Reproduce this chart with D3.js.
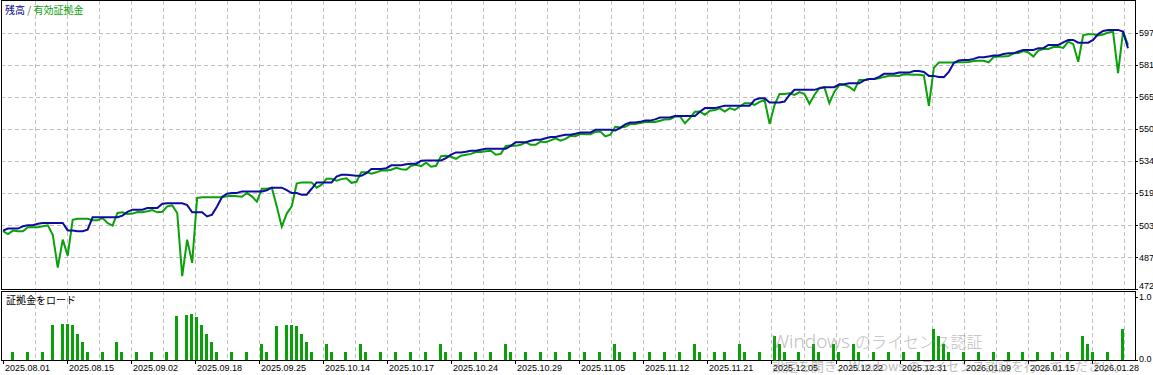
<!DOCTYPE html>
<html>
<head>
<meta charset="utf-8">
<script src="https://cdn.jsdelivr.net/npm/d3@7"></script>
<style>
	body { margin: 0; background: #fff; overflow: hidden; }
	svg { display: block; }
	text { font-family: "Liberation Sans", Arial, sans-serif; font-size: 9px; fill: #000; }
	.jp { font-family: "Noto Sans CJK JP", sans-serif; }
</style>
</head>
<body>
<svg id="chart" width="1153" height="375"></svg>
<script>
	//balance per deal
var balance = [
	500.7, 501.7, 501.7, 501.7, 502.8, 503.3, 503.3, 504.0, 504.4, 504.4,
	504.4, 504.4, 504.4, 500.8, 500.8, 500.4, 500.4, 501.2, 507.2, 507.2,
	507.2, 507.2, 507.2, 507.2, 508.0, 509.8, 510.9, 510.9, 510.9, 511.7,
	511.7, 511.7, 513.8, 514.0, 514.0, 514.0, 514.0, 513.1, 509.6, 509.6,
	509.6, 507.6, 508.5, 512.5, 517.1, 518.7, 519.0, 519.0, 519.8, 519.8,
	519.8, 519.8, 519.8, 520.4, 521.6, 521.6, 521.6, 520.4, 519.0, 519.0,
	518.2, 518.2, 521.1, 524.2, 524.2, 524.2, 524.2, 527.0, 527.9, 527.9,
	527.7, 527.4, 527.4, 528.7, 530.7, 530.7, 530.7, 531.1, 532.5, 532.5,
	532.5, 533.0, 533.3, 533.3, 534.7, 534.9, 534.9, 534.9, 534.9, 536.0,
	537.7, 538.8, 538.8, 539.1, 539.6, 539.6, 540.1, 540.6, 540.6, 540.6,
	540.6, 540.6, 542.0, 543.8, 543.8, 543.8, 544.5, 545.0, 545.0, 545.7,
	546.3, 546.3, 546.9, 547.4, 547.4, 547.9, 548.5, 548.5, 548.5, 549.8,
	549.8, 549.8, 549.8, 549.5, 550.8, 552.5, 553.4, 553.4, 553.7, 554.3,
	554.3, 554.9, 555.8, 555.8, 555.8, 556.6, 556.6, 556.6, 556.6, 556.6,
	558.6, 560.4, 560.4, 560.4, 561.0, 561.5, 561.5, 561.5, 561.5, 561.6,
	561.6, 564.4, 565.2, 565.2, 563.1, 563.1, 563.1, 563.6, 566.8, 569.3,
	569.3, 569.3, 569.3, 569.3, 570.0, 570.6, 570.6, 570.6, 572.0, 572.0,
	572.5, 572.5, 572.5, 573.9, 574.6, 574.6, 575.6, 577.1, 577.1, 577.1,
	577.7, 577.7, 577.7, 578.5, 578.5, 578.0, 576.1, 576.1, 575.6, 575.5,
	578.0, 582.4, 583.6, 583.9, 583.9, 584.4, 585.2, 585.2, 585.6, 586.0,
	586.0, 586.8, 587.1, 587.1, 588.0, 588.7, 588.7, 588.7, 589.6, 589.6,
	591.2, 591.2, 591.2, 592.4, 593.6, 593.6, 592.3, 592.3, 592.3, 593.6,
	596.5, 598.0, 598.5, 598.5, 598.5, 597.7, 589.6
];

	//equity per deal
var equity = [
	500.4, 499.0, 500.7, 500.4, 500.4, 502.3, 502.3, 502.3, 502.8, 503.3,
	498.7, 482.7, 496.3, 488.5, 506.0, 506.5, 506.5, 506.5, 505.8, 505.7,
	506.8, 504.4, 503.1, 509.3, 509.6, 508.8, 509.0, 509.8, 509.6, 510.1,
	510.7, 509.6, 509.9, 512.5, 513.0, 509.3, 478.5, 496.3, 485.0, 516.6,
	516.9, 516.9, 516.9, 516.9, 516.9, 517.4, 517.7, 517.5, 517.2, 519.0,
	517.4, 514.8, 521.1, 521.1, 521.6, 512.5, 502.6, 509.0, 512.5, 523.6,
	524.2, 524.2, 524.2, 521.6, 523.1, 526.0, 526.0, 525.0, 525.8, 526.2,
	524.0, 524.5, 529.2, 529.2, 528.4, 529.1, 530.0, 530.0, 530.4, 531.3,
	530.6, 530.4, 532.3, 532.8, 532.1, 533.8, 531.8, 532.3, 537.0, 537.2,
	536.7, 535.7, 537.2, 537.7, 538.1, 539.0, 539.0, 539.4, 539.6, 537.7,
	538.1, 542.0, 542.2, 542.0, 542.5, 543.7, 542.5, 542.5, 544.1, 543.8,
	544.7, 545.7, 544.5, 545.4, 546.9, 546.7, 547.9, 547.7, 547.7, 548.8,
	549.0, 546.6, 547.4, 551.3, 551.0, 551.3, 552.6, 552.6, 553.1, 553.6,
	553.6, 553.6, 554.2, 554.9, 555.0, 556.3, 556.3, 553.0, 555.5, 558.6,
	558.7, 557.1, 559.1, 559.5, 560.3, 558.7, 560.4, 559.5, 561.2, 562.8,
	562.8, 562.0, 563.4, 564.4, 552.7, 562.0, 567.3, 567.3, 567.6, 566.8,
	568.2, 567.3, 562.5, 566.8, 570.2, 570.6, 562.8, 568.3, 571.7, 571.7,
	570.7, 569.0, 574.1, 574.1, 574.6, 574.6, 574.9, 575.6, 576.2, 576.2,
	576.1, 576.9, 576.8, 576.6, 576.6, 576.3, 561.5, 580.0, 582.6, 582.6,
	582.6, 582.6, 582.7, 582.7, 582.9, 583.4, 583.5, 583.5, 582.7, 585.3,
	585.5, 585.5, 585.8, 587.1, 587.3, 588.2, 587.5, 585.5, 588.5, 589.2,
	589.2, 590.2, 590.3, 589.7, 592.8, 591.6, 583.0, 596.0, 596.4, 596.4,
	595.8, 596.3, 597.2, 597.6, 577.4, 597.6, 591.2
];

	//deposit load: deal index and value
var loadDeal = [
	2, 5, 8, 10, 12, 13, 14, 15, 16, 17, 20, 23, 24, 27, 30, 33, 35, 37, 38, 39,
	40, 41, 42, 43, 46, 49, 52, 53, 55, 57, 58, 59, 60, 61, 62, 65, 66, 69, 72, 73,
	76, 79, 82, 85, 88, 89, 92, 95, 98, 101, 102, 105, 108, 111, 114, 117, 120, 123, 124, 127,
	130, 133, 136, 139, 140, 143, 145, 148, 149, 152, 155, 156, 157, 160, 163, 164, 167, 168, 171, 172,
	175, 178, 181, 184, 187, 188, 189, 190, 193, 196, 199, 202, 205, 208, 211, 214, 217, 218, 219, 222,
	225
];
var loadValue = [
	0.13, 0.13, 0.13, 0.56, 0.57, 0.57, 0.56, 0.41, 0.28, 0.13, 0.13, 0.28, 0.13, 0.13, 0.13, 0.13, 0.70, 0.71, 0.73, 0.68,
	0.56, 0.41, 0.28, 0.13, 0.13, 0.13, 0.26, 0.13, 0.54, 0.56, 0.56, 0.54, 0.41, 0.28, 0.13, 0.26, 0.13, 0.13, 0.26, 0.13,
	0.13, 0.13, 0.13, 0.13, 0.26, 0.13, 0.13, 0.13, 0.13, 0.26, 0.13, 0.13, 0.13, 0.13, 0.13, 0.13, 0.13, 0.26, 0.13, 0.13,
	0.13, 0.13, 0.13, 0.26, 0.13, 0.13, 0.13, 0.26, 0.13, 0.13, 0.38, 0.26, 0.13, 0.13, 0.26, 0.13, 0.26, 0.13, 0.26, 0.13,
	0.13, 0.13, 0.13, 0.13, 0.50, 0.38, 0.26, 0.13, 0.13, 0.13, 0.13, 0.13, 0.13, 0.13, 0.13, 0.13, 0.38, 0.26, 0.13, 0.13,
	0.50
];

	//axis labels
var dateLabels = ['2025.08.01', '2025.08.15', '2025.09.02', '2025.09.18', '2025.09.25', '2025.10.14',
	'2025.10.17', '2025.10.24', '2025.10.29', '2025.11.05', '2025.11.12', '2025.11.21',
	'2025.12.05', '2025.12.22', '2025.12.31', '2026.01.09', '2026.01.15', '2026.01.28'];
var valueTicks = [472, 487.6, 503.25, 518.9, 534.5, 550.1, 565.75, 581.4, 597];
var valueLabels = ['472', '487', '503', '519', '534', '550', '565', '581', '597'];
var loadTicks = [0, 1];
var loadLabels = ['0.0', '1.0'];

var svg = d3.select('#chart');

var plotLeft = 1, plotRight = 1135;
var mainTop = 1, mainBottom = 289;
var subTop = 291, subBottom = 360;
var gridStep = 32.02;

var blue = '#0c0ca0', green = '#0aa00a', gridColor = '#c0c0c0';

var x = d3.scaleLinear().domain([0, balance.length - 1]).range([3, 1128]);
var y = d3.scaleLinear().domain([472, 597]).range([289.5, 33]);
var yLoad = d3.scaleLinear().domain([0, 1]).range([subBottom, 297]);

	//vertical grid lines (both panels)
var grid = svg.append('g').attr('stroke', gridColor).attr('stroke-dasharray', '4,3').attr('shape-rendering', 'crispEdges');
for (var k = 1; 3 + k * gridStep < plotRight - 4; k++) {
	var gx = Math.round(3 + k * gridStep) + 0.5;
	grid.append('line').attr('x1', gx).attr('x2', gx).attr('y1', mainTop).attr('y2', mainBottom);
	grid.append('line').attr('x1', gx).attr('x2', gx).attr('y1', subTop).attr('y2', subBottom);
}

	//horizontal grid lines (main panel)
grid.selectAll('.hgrid')
	.data(valueTicks.slice(1))
	.enter().append('line')
	.attr('x1', plotLeft).attr('x2', plotRight)
	.attr('y1', function(d) { return Math.round(y(d)) + 0.5; })
	.attr('y2', function(d) { return Math.round(y(d)) + 0.5; });

	//load bars
svg.append('g').selectAll('rect')
	.data(loadDeal)
	.enter().append('rect')
	.attr('x', function(d) { return Math.round(x(d)) - 2; })
	.attr('width', 3)
	.attr('y', function(d, i) { return yLoad(loadValue[i]); })
	.attr('height', function(d, i) { return subBottom - yLoad(loadValue[i]); })
	.attr('fill', green)
	.attr('shape-rendering', 'crispEdges');

	//equity and balance lines
var line = d3.line()
	.x(function(d, i) { return x(i); })
	.y(function(d) { return y(d); });

svg.append('path').datum(equity)
	.attr('d', line).attr('fill', 'none').attr('stroke', green).attr('stroke-width', 2).attr('stroke-linejoin', 'miter');

svg.append('path').datum(balance)
	.attr('d', line).attr('fill', 'none').attr('stroke', blue).attr('stroke-width', 2).attr('stroke-linejoin', 'miter');

	//frames
var frame = svg.append('g').attr('fill', 'none').attr('stroke', '#000').attr('shape-rendering', 'crispEdges');
frame.append('rect').attr('x', plotLeft + 0.5).attr('y', mainTop - 0.5).attr('width', plotRight - plotLeft).attr('height', mainBottom - mainTop + 0.5);
frame.append('rect').attr('x', plotLeft + 0.5).attr('y', subTop + 0.5).attr('width', plotRight - plotLeft).attr('height', subBottom - subTop);

	//right value axis
var yAxis = svg.append('g');
yAxis.selectAll('line')
	.data(valueTicks)
	.enter().append('line')
	.attr('x1', plotRight).attr('x2', plotRight + 3)
	.attr('y1', function(d) { return Math.round(Math.min(y(d), mainBottom)) + 0.5; })
	.attr('y2', function(d) { return Math.round(Math.min(y(d), mainBottom)) + 0.5; })
	.attr('stroke', '#000');
yAxis.selectAll('text')
	.data(valueTicks)
	.enter().append('text')
	.attr('x', 1139)
	.attr('y', function(d) { return Math.min(y(d), mainBottom - 3); })
	.attr('dy', '0.35em')
	.text(function(d, i) { return valueLabels[i]; });

	//right load axis
var lAxis = svg.append('g');
lAxis.selectAll('line')
	.data(loadTicks)
	.enter().append('line')
	.attr('x1', plotRight).attr('x2', plotRight + 3)
	.attr('y1', function(d) { return Math.round(yLoad(d)) + 0.5; })
	.attr('y2', function(d) { return Math.round(yLoad(d)) + 0.5; })
	.attr('stroke', '#000');
lAxis.selectAll('text')
	.data(loadTicks)
	.enter().append('text')
	.attr('x', 1139)
	.attr('y', function(d) { return yLoad(d) - (d === 0 ? 1 : 0); })
	.attr('dy', '0.35em')
	.text(function(d, i) { return loadLabels[i]; });

	//bottom date axis
var xAxis = svg.append('g');
dateLabels.forEach(function(label, k) {
	var tx = Math.round(3 + k * gridStep * 2) + 0.5;
	xAxis.append('line').attr('x1', tx).attr('x2', tx).attr('y1', subBottom).attr('y2', subBottom + 4)
		.attr('stroke', '#000').attr('shape-rendering', 'crispEdges');
	xAxis.append('text').attr('x', tx + 1.5).attr('y', 371).text(label);
});

	//titles
var title = svg.append('text').attr('class', 'jp').attr('x', 5).attr('y', 14).style('font-size', '10px');
title.append('tspan').attr('fill', '#00008b').style('fill', '#00008b').text('残高');
title.append('tspan').style('fill', '#555').text(' / ');
title.append('tspan').style('fill', green).text('有効証拠金');

svg.append('text').attr('class', 'jp').attr('x', 6).attr('y', 304).style('font-size', '10px').text('証拠金をロード');

	//os watermark overlay
var wm = svg.append('g').attr('opacity', 0.5);
var wm1 = wm.append('text').attr('class', 'jp').attr('x', 772).attr('y', 348).style('fill', '#808080');
wm1.append('tspan').style('font-family', '"Noto Sans", sans-serif').style('font-size', '19px').style('font-weight', 300).text('Windows ');
wm1.append('tspan').style('font-size', '16px').style('font-weight', 300).text('のライセンス認証');
wm.append('text').attr('class', 'jp').attr('x', 772).attr('y', 371).style('fill', '#808080').style('font-size', '13px')
	.text('設定を開き、Windows のライセンス認証を行ってください。');
</script>
</body>
</html>
